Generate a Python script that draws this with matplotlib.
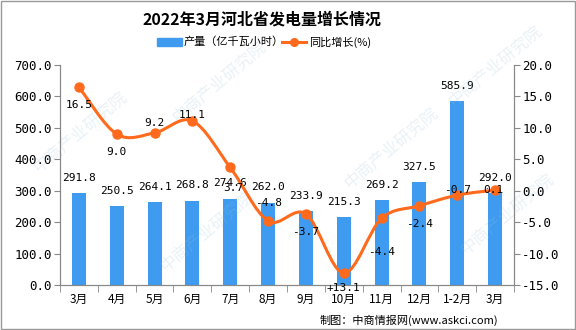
import numpy as np
import matplotlib.pyplot as plt
from matplotlib.path import Path
from matplotlib.patches import PathPatch, Rectangle

plt.rcParams['font.family'] = ['Noto Sans CJK SC', 'DejaVu Sans']
num_font = ['DejaVu Sans Mono', 'Noto Sans CJK SC']

# data
months = ["3月", "4月", "5月", "6月", "7月", "8月", "9月", "10月", "11月", "12月", "1-2月", "3月"]
output = [291.8, 250.5, 264.1, 268.8, 274.6, 262.0, 233.9, 215.3, 269.2, 327.5, 585.9, 292.0]
growth = [16.5, 9.0, 9.2, 11.1, 3.7, -4.8, -3.7, -13.1, -4.4, -2.4, -0.7, 0.1]
growth_labels = ["16.5", "9.0", "9.2", "11.1", "3.7", "-4.8", "-3.7", "+13.1", "-4.4", "-2.4", "-0.7", "0.1"]

bar_color = "#3E9BEF"
line_color = "#FF6A1C"

fig = plt.figure(figsize=(5.76, 3.30), dpi=100)
ax = fig.add_axes([60 / 576, 1 - 285 / 330, 454 / 576, 220 / 330])
ax2 = ax.twinx()

x = np.arange(len(months))
ax.bar(x, output, width=0.37, color=bar_color, zorder=2)
ax.set_ylim(0, 700)
ax.set_yticks(np.arange(0, 701, 100))
ax.set_yticklabels([f"{v:.1f}" for v in np.arange(0, 701, 100)], fontsize=9, family=num_font)
ax.set_xlim(-0.5, len(months) - 0.5)
ax.set_xticks(x)
ax.set_xticklabels(months, fontsize=8.5)
ax.set_xticks(np.arange(-0.5, len(months), 1), minor=True)
ax.tick_params(axis='x', which='major', length=0, pad=6)
ax.tick_params(axis='x', which='minor', length=5, color="#888888")
ax.tick_params(axis='y', length=4, color="#888888", pad=2)

for xi, v in zip(x, output):
    ax.annotate(f"{v:.1f}", (xi, v), xytext=(0, 11), textcoords="offset points",
                ha="center", va="center", fontsize=8, family=num_font, zorder=5)

# smoothed line (Catmull-Rom -> cubic bezier through the data points)
pts = np.column_stack([x, growth]).astype(float)
verts = [tuple(pts[0])]
codes = [Path.MOVETO]
n = len(pts)
for i in range(n - 1):
    p0 = pts[max(i - 1, 0)]
    p1 = pts[i]
    p2 = pts[i + 1]
    p3 = pts[min(i + 2, n - 1)]
    c1 = p1 + (p2 - p0) / 6
    c2 = p2 - (p3 - p1) / 6
    verts += [tuple(c1), tuple(c2), tuple(p2)]
    codes += [Path.CURVE4] * 3
ax2.add_patch(PathPatch(Path(verts, codes), fill=False, edgecolor=line_color, lw=2.2, zorder=3))
ax2.plot(x, growth, linestyle="none", marker="o", markersize=6.5, color=line_color, zorder=4)
ax2.set_ylim(-15, 20)
ax2.set_yticks(np.arange(-15, 21, 5))
ax2.set_yticklabels([f"{v:.1f}" for v in np.arange(-15, 21, 5)], fontsize=9, family=num_font)
ax2.tick_params(axis='y', length=4, color="#888888", pad=2)

offsets = [(0, -13), (0, -13), (0, 7), (0, 4), (2, -15), (0, 13), (0, -13), (0, -11),
           (0, -24), (0, -13), (0, 4), (-1, 0)]
for xi, v, lab, off in zip(x, growth, growth_labels, offsets):
    ax2.annotate(lab, (xi, v), xytext=off, textcoords="offset points",
                 ha="center", va="center", fontsize=8, family=num_font, zorder=5)

for a in (ax, ax2):
    a.spines['top'].set_visible(False)
    for s in ('left', 'right', 'bottom'):
        a.spines[s].set_color("#888888")
ax2.set_zorder(ax.get_zorder() + 1)
ax.patch.set_visible(False)

# title, legend
fig.text(0.455, 1 - 20 / 330, "2022年3月河北省发电量增长情况", ha="center", va="center",
         fontsize=11.5, fontweight="bold")
fig.patches.append(Rectangle((157 / 576, 1 - 46 / 330), 25 / 576, 8 / 330,
                             transform=fig.transFigure, color=bar_color))
fig.text(184 / 576, 1 - 42 / 330, "产量（亿千瓦小时）", ha="left", va="center", fontsize=8)
fig.lines.append(plt.Line2D([282 / 576, 306 / 576], [1 - 42 / 330] * 2, transform=fig.transFigure,
                            color=line_color, lw=2.2))
fig.lines.append(plt.Line2D([294 / 576], [1 - 42 / 330], transform=fig.transFigure,
                            color=line_color, marker="o", markersize=5.5, linestyle="none"))
fig.text(309 / 576, 1 - 42 / 330, "同比增长(%)", ha="left", va="center", fontsize=8)

fig.text(498 / 576, 1 - 320 / 330, "制图：中商情报网(www.askci.com)", ha="right", va="center", fontsize=8)

# watermark
for wx, wy in [(0.14, 0.6), (0.38, 0.75), (0.36, 0.3), (0.68, 0.55), (0.86, 0.8), (0.88, 0.35)]:
    fig.text(wx, wy, "中商产业研究院", fontsize=12, color="#9CC3DC", alpha=0.22,
             rotation=40, ha="center", va="center", zorder=0)

fig.patches.append(Rectangle((0.001, 0.002), 0.997, 0.995, transform=fig.transFigure,
                             fill=False, edgecolor="#999999", lw=1))

fig.savefig("out.png", dpi=100)
